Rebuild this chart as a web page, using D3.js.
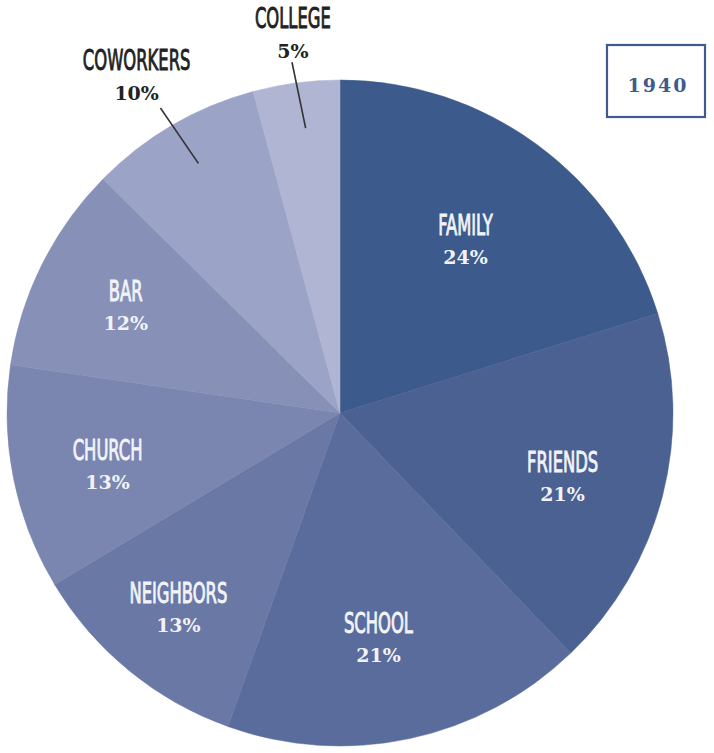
<!DOCTYPE html>
<html>
<head>
<meta charset="utf-8">
<script src="https://cdn.jsdelivr.net/npm/d3@7/dist/d3.min.js"></script>
<style>
  html, body { margin: 0; padding: 0; background: #ffffff; }
  svg { display: block; }
</style>
</head>
<body>
<script>
// Where people met their partners, 1940
const categories = ["FAMILY", "FRIENDS", "SCHOOL", "NEIGHBORS", "CHURCH", "BAR", "COWORKERS", "COLLEGE"];
const shares = [24, 21, 21, 13, 13, 12, 10, 5];
const sliceColors = ["#3c5a8b", "#4a6192", "#5a6c9c", "#6a78a6", "#7a86af", "#8790b7", "#9ba3c6", "#b0b5d4"];
const outsideLabels = ["COWORKERS", "COLLEGE"];
const yearLabel = "1940";

const width = 714, height = 753;
const cx = 340, cy = 413, radius = 333;

const svg = d3.select("body").append("svg")
  .attr("width", width)
  .attr("height", height);

const g = svg.append("g").attr("transform", `translate(${cx},${cy})`);

const pie = d3.pie().sort(null).value(d => d.value);
const arcs = pie(categories.map((c, i) => ({ name: c, value: shares[i], color: sliceColors[i] })));

const arc = d3.arc().innerRadius(0).outerRadius(radius);

g.selectAll("path.slice")
  .data(arcs)
  .join("path")
  .attr("class", "slice")
  .attr("d", arc)
  .attr("fill", d => d.data.color)
  .attr("stroke", d => d.data.color)
  .attr("stroke-width", 0.5);

const nameFont = "'Liberation Sans Narrow', 'DejaVu Sans Condensed', 'Liberation Sans', sans-serif";
const pctFont = "'DejaVu Serif', 'Liberation Serif', serif";
const nameScale = "scale(0.65,1)";

// polar helper: angle measured clockwise from 12 o'clock
const polar = (a, r) => [Math.sin(a) * r, -Math.cos(a) * r];
const mid = d => (d.startAngle + d.endAngle) / 2;

// label placement: radius per slice plus small hand nudges
const labelRadius = { FAMILY: 212, NEIGHBORS: 255, COWORKERS: 360, COLLEGE: 358 };
const labelNudge = { FRIENDS: [-6, 7], SCHOOL: [-11, -4], CHURCH: [-1, 8], BAR: [-3, 0], COWORKERS: [-22, -2] };

const labelPos = d => {
  const [x, y] = polar(mid(d), labelRadius[d.data.name] || 236);
  const [nx, ny] = labelNudge[d.data.name] || [0, 0];
  return [x + nx, y + ny];
};

// category name: narrow sans, slightly thickened with a thin outline
const addName = (sel, dy, color) => sel.append("text")
  .attr("transform", `translate(0,${dy}) ${nameScale}`)
  .attr("text-anchor", "middle")
  .attr("font-family", nameFont)
  .attr("font-size", 28)
  .attr("fill", color)
  .attr("stroke", color)
  .attr("stroke-width", 0.9)
  .text(d => d.data.name);

const addPct = (sel, dy, color) => sel.append("text")
  .attr("y", dy)
  .attr("text-anchor", "middle")
  .attr("font-family", pctFont)
  .attr("font-weight", "bold")
  .attr("font-size", 19)
  .attr("fill", color)
  .text(d => d.data.value + "%");

// inside labels
const inside = arcs.filter(d => !outsideLabels.includes(d.data.name));

const lab = g.selectAll("g.lab")
  .data(inside)
  .join("g")
  .attr("class", "lab")
  .attr("transform", d => `translate(${labelPos(d)})`);

addName(lab, -7, "#f2f3f8");
addPct(lab, 22, "#f2f3f8");

// outside labels with leader lines
const outside = arcs.filter(d => outsideLabels.includes(d.data.name));

g.selectAll("line.leader")
  .data(outside)
  .join("line")
  .attr("class", "leader")
  .attr("x1", d => polar(mid(d) + 0.012, 287)[0])
  .attr("y1", d => polar(mid(d) + 0.012, 287)[1])
  .attr("x2", d => polar(mid(d) - 0.004, 354)[0])
  .attr("y2", d => polar(mid(d) - 0.004, 354)[1])
  .attr("stroke", "#333333")
  .attr("stroke-width", 1.6);

const olab = g.selectAll("g.olab")
  .data(outside)
  .join("g")
  .attr("class", "olab")
  .attr("transform", d => `translate(${labelPos(d)})`);

addName(olab, -30, "#222222");
addPct(olab, 0, "#222222");

// year box
const box = svg.append("g");
box.append("rect")
  .attr("x", 607).attr("y", 45)
  .attr("width", 98).attr("height", 72)
  .attr("fill", "#ffffff")
  .attr("stroke", "#3f5b8c")
  .attr("stroke-width", 2.2);
box.append("text")
  .attr("x", 658).attr("y", 92)
  .attr("text-anchor", "middle")
  .attr("font-family", pctFont)
  .attr("font-weight", "bold")
  .attr("font-size", 19)
  .attr("letter-spacing", 2)
  .attr("fill", "#3f5b8c")
  .text(yearLabel);
</script>
</body>
</html>
